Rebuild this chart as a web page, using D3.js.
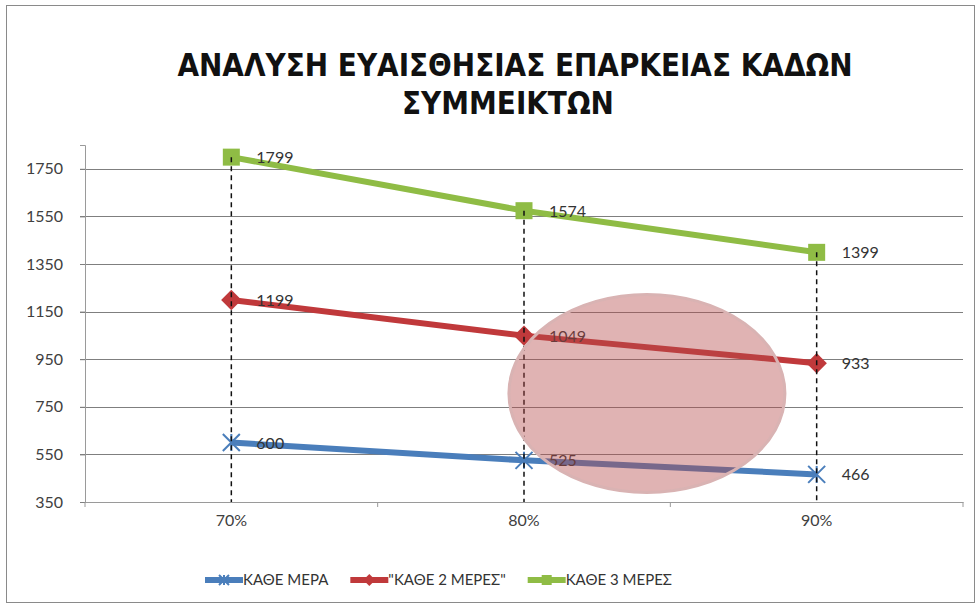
<!DOCTYPE html>
<html>
<head>
<meta charset="utf-8">
<script src="https://cdn.jsdelivr.net/npm/d3@7"></script>
<style>
  body { margin: 0; background: #fff; }
  svg text { font-family: Lato, "Open Sans", sans-serif; }
</style>
</head>
<body>
<div id="chart"></div>
<script>
// data
var categories = ["70%", "80%", "90%"];
var seriesNames = ["ΚΑΘΕ ΜΕΡΑ", "\"ΚΑΘΕ 2 ΜΕΡΕΣ\"", "ΚΑΘΕ 3 ΜΕΡΕΣ"];
var dailyValues = [600, 525, 466];
var every2Values = [1199, 1049, 933];
var every3Values = [1799, 1574, 1399];
var yTicks = [350, 550, 750, 950, 1150, 1350, 1550, 1750];
var titleLines = ["ΑΝΑΛΥΣΗ ΕΥΑΙΣΘΗΣΙΑΣ ΕΠΑΡΚΕΙΑΣ ΚΑΔΩΝ", "ΣΥΜΜΕΙΚΤΩΝ"];

var colors = ["#4a7ebb", "#c0393b", "#8fbc45"];
var markers = ["star", "diamond", "square"];

var series = [dailyValues, every2Values, every3Values].map(function(vals, i) {
  return {
    name: seriesNames[i],
    color: colors[i],
    marker: markers[i],
    values: vals.map(function(v, j) { return { cat: categories[j], value: v }; })
  };
});

var W = 978, H = 607;
var margin = { top: 145, right: 15, bottom: 105, left: 85 };
var width = 963 - margin.left, height = 502 - margin.top;

var svg = d3.select("#chart").append("svg")
  .attr("width", W).attr("height", H);

// chart border
svg.append("rect")
  .attr("x", 6.5).attr("y", 5.5)
  .attr("width", 968).attr("height", 597)
  .attr("fill", "#fff").attr("stroke", "#8a8a8a");

// title
svg.selectAll(".title").data(titleLines).enter().append("text")
  .attr("class", "title")
  .attr("x", function(d, i) { return i == 0 ? 515 : 508; })
  .attr("y", function(d, i) { return 76 + i * 38; })
  .attr("text-anchor", "middle")
  .style("font-family", "'Liberation Sans Narrow', 'DejaVu Sans Condensed', sans-serif")
  .style("font-weight", "bold")
  .style("font-size", "31px")
  .attr("fill", "#111")
  .text(function(d) { return d; });

var g = svg.append("g")
  .attr("transform", "translate(" + margin.left + "," + margin.top + ")");

var x = d3.scaleBand().domain(categories).range([0, width]);
var y = d3.scaleLinear().domain([350, 1850]).range([height, 0]);

// gridlines
g.selectAll(".grid").data(yTicks).enter().append("line")
  .attr("class", "grid")
  .attr("x1", -5).attr("x2", width)
  .attr("y1", function(d) { return Math.round(y(d)) + 0.5; })
  .attr("y2", function(d) { return Math.round(y(d)) + 0.5; })
  .attr("stroke", "#7f7f7f").attr("stroke-width", 1);

// y axis
var yAxis = g.append("g").call(d3.axisLeft(y).tickValues(yTicks).tickFormat(d3.format("d"))
  .tickSize(5).tickPadding(17));
yAxis.select(".domain").attr("stroke", "#9a9a9a");
yAxis.selectAll(".tick line").attr("stroke", "#7f7f7f");
yAxis.selectAll("text").style("font-size", "16px").attr("fill", "#404040")
  .style("font-family", "Lato, sans-serif");

// x axis
var xAxis = g.append("g").attr("transform", "translate(0," + height + ")")
  .call(d3.axisBottom(x).tickSize(0).tickPadding(13));
xAxis.select(".domain").attr("stroke", "#9a9a9a");
xAxis.selectAll("text").style("font-size", "16px").attr("fill", "#404040")
  .style("font-family", "Lato, sans-serif");
// category boundary ticks
var bounds = categories.map(function(c) { return x(c); }).concat([width]);
xAxis.selectAll(".btick").data(bounds).enter().append("line")
  .attr("class", "btick")
  .attr("x1", function(d) { return d; }).attr("x2", function(d) { return d; })
  .attr("y1", 0).attr("y2", 5)
  .attr("stroke", "#9a9a9a");

var cx = function(d) { return x(d.cat) + x.bandwidth() / 2; };

// annotation ellipse (overlay in data units)
var ellipseCenter = { value: 806, frac: 0.42 };
var ex = cx({ cat: "80%" }) + (cx({ cat: "90%" }) - cx({ cat: "80%" })) * ellipseCenter.frac;
var ey = y(ellipseCenter.value);
var line = d3.line().x(cx).y(function(d) { return y(d.value); });

// series lines
var sg = g.selectAll(".series").data(series).enter().append("g").attr("class", "series");
sg.append("path")
  .attr("d", function(d) { return line(d.values); })
  .attr("fill", "none")
  .attr("stroke", function(d) { return d.color; })
  .attr("stroke-width", 6)
  .attr("stroke-linejoin", "round");

function drawMarker(sel, type, color, size) {
  if (type === "square") {
    sel.append("rect").attr("x", -size / 2).attr("y", -size / 2)
      .attr("width", size).attr("height", size).attr("fill", color);
  } else if (type === "diamond") {
    var s = size * 0.6;
    sel.append("path").attr("d", "M0," + -s + "L" + s + ",0L0," + s + "L" + -s + ",0Z")
      .attr("fill", color);
  } else {
    var r = size / 2;
    sel.append("path")
      .attr("d", "M" + -r + "," + -r + "L" + r + "," + r + "M" + -r + "," + r + "L" + r + "," + -r + "M0," + -r + "L0," + r)
      .attr("stroke", color).attr("stroke-width", 2).attr("fill", "none");
  }
}

sg.each(function(s) {
  var grp = d3.select(this);
  s.values.forEach(function(d) {
    var m = grp.append("g").attr("transform", "translate(" + cx(d) + "," + y(d.value) + ")");
    drawMarker(m, s.marker, s.color, 17);
  });
  grp.selectAll(".lbl").data(s.values).enter().append("text")
    .attr("class", "lbl")
    .attr("x", function(d) { return cx(d) + 25; })
    .attr("y", function(d) { return y(d.value) + 6; })
    .style("font-size", "16px")
    .attr("fill", "#333")
    .text(function(d) { return d.value; });
});

// drop lines
var maxVals = categories.map(function(c, j) {
  return { cat: c, value: d3.max(series, function(s) { return s.values[j].value; }) };
});
g.selectAll(".drop").data(maxVals).enter().append("line")
  .attr("class", "drop")
  .attr("x1", cx).attr("x2", cx)
  .attr("y1", function(d) { return y(d.value); })
  .attr("y2", height)
  .attr("stroke", "#111").attr("stroke-width", 1.5)
  .attr("stroke-dasharray", "5,4");

// ellipse overlay
g.append("ellipse")
  .attr("cx", ex).attr("cy", ey)
  .attr("rx", 138).attr("ry", 99)
  .attr("fill", "#b54a4a").attr("fill-opacity", 0.42)
  .attr("stroke", "#d9b3b3").attr("stroke-width", 3);

// legend
var legend = svg.append("g").attr("transform", "translate(205,580)");
var lx = 0;
series.forEach(function(s) {
  var item = legend.append("g").attr("transform", "translate(" + lx + ",0)");
  item.append("line").attr("x1", 0).attr("x2", 38).attr("y1", 0).attr("y2", 0)
    .attr("stroke", s.color).attr("stroke-width", 6);
  var m = item.append("g").attr("transform", "translate(19,0)");
  drawMarker(m, s.marker, s.color, 10);
  var t = item.append("text").attr("x", 38).attr("y", 5)
    .style("font-size", "15px").attr("fill", "#333").text(s.name);
  lx += 38 + t.node().getComputedTextLength() + 22;
});
</script>
</body>
</html>
